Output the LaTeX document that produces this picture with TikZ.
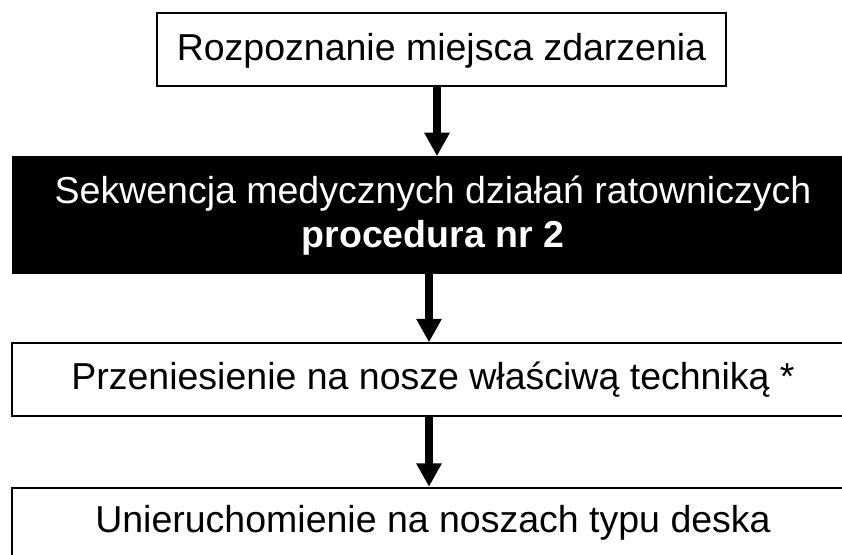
\documentclass[tikz,border=0pt]{standalone}
\usepackage{fontspec}
\setmainfont{Liberation Sans}
\usetikzlibrary{arrows.meta}
\newcommand\fs{\fontsize{37.5}{44}\selectfont}
\tikzset{
  box/.style={draw=black, fill=white, line width=1.8pt, inner sep=0pt, font=\fs,
    text height=28pt, text depth=9pt, minimum height=73pt},
  blackbox/.style={draw=black, fill=black, line width=1pt, inner sep=0pt},
  whitetext/.style={text=white, font=\fs, anchor=base, inner sep=0pt},
  arr/.style={line width=7.7pt, -{Triangle[width=24pt, length=23.5pt]}},
}
\begin{document}
\begin{tikzpicture}[x=1pt, y=-1pt]
\useasboundingbox (0,0) rectangle (842,554);
\fill[white] (0,0) rectangle (842,554);
\clip (0,0) rectangle (842,554);
\node[box, minimum width=569pt, text depth=7pt] (b1) at (441.5,49.5) {Rozpoznanie miejsca zdarzenia};
\node[blackbox, minimum width=842pt, minimum height=116.7pt] (b2) at (433,215) {};
\node[whitetext] (t2a) at (433,203) {Sekwencja medycznych działań ratowniczych};
\node[whitetext, font=\fs\bfseries] (t2b) at (433,247) {procedura nr 2};
\node[box, minimum width=842pt] (b3) at (433,379.7) {Przeniesienie na nosze właściwą techniką *};
\node[box, minimum width=842pt, text depth=12.4pt] (b4) at (433,524.2) {Unieruchomienie na noszach typu deska};
\coordinate (x1) at (437,0);
\coordinate (x2) at (429,0);
\draw[arr] (b1.south -| x1) -- (b2.north -| x1);
\draw[arr] (b2.south -| x2) -- (b3.north -| x2);
\draw[arr] (b3.south -| x2) -- (b4.north -| x2);
\end{tikzpicture}
\end{document}
